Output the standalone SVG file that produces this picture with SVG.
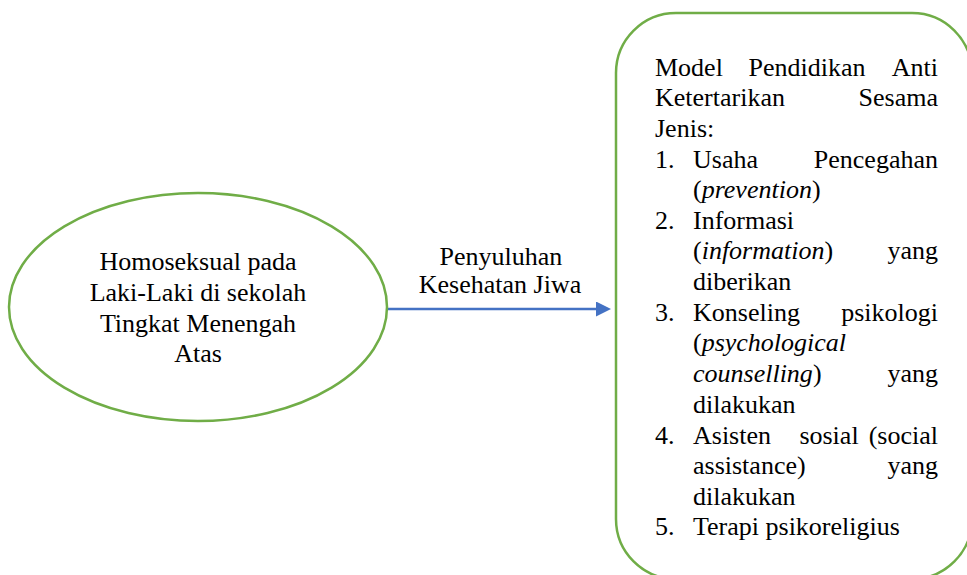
<svg xmlns="http://www.w3.org/2000/svg" width="967" height="575" viewBox="0 0 967 575">
<defs>
<style>
text{font-family:'Liberation Serif','DejaVu Serif',serif;font-size:26px;fill:#000}
.m{text-anchor:middle}
.e{text-anchor:end}
.i{font-style:italic}
.shape{fill:#fff;stroke:#70AD47;stroke-width:2.5}
</style>
<marker id="ah" markerWidth="15" markerHeight="15" refX="0" refY="7.5" orient="auto" markerUnits="userSpaceOnUse">
<polygon points="0,0 15,7.5 0,15" fill="#4472C4"/>
</marker>
</defs>
<rect width="967" height="575" fill="#fff"/>
<g id="connectors">
<line x1="388" y1="309" x2="596" y2="309" stroke="#4472C4" stroke-width="2.5" marker-end="url(#ah)"/>
<text class="m" x="501" y="265">Penyuluhan</text>
<text class="m" x="500" y="293">Kesehatan Jiwa</text>
</g>
<g id="node-homoseksual">
<ellipse class="shape" cx="198" cy="307" rx="189" ry="114"/>
<text class="m" x="198" y="270">Homoseksual pada</text>
<text class="m" x="198" y="301">Laki-Laki di sekolah</text>
<text class="m" x="198" y="332">Tingkat Menengah</text>
<text class="m" x="198" y="362">Atas</text>
</g>
<g id="node-model">
<rect class="shape" x="616" y="13" width="356" height="566" rx="60" ry="60"/>
<text x="655" y="76">Model</text>
<text class="m" x="807" y="76">Pendidikan</text>
<text class="e" x="938" y="76">Anti</text>
<text x="655" y="106">Ketertarikan</text>
<text class="e" x="938" y="106">Sesama</text>
<text x="655" y="137">Jenis:</text>
<text x="655" y="168">1.</text>
<text x="693" y="168">Usaha</text>
<text class="e" x="938" y="168">Pencegahan</text>
<text x="693" y="198">(<tspan class="i">prevention</tspan>)</text>
<text x="655" y="229">2.</text>
<text x="693" y="229">Informasi</text>
<text x="693" y="259">(<tspan class="i">information</tspan>)</text>
<text class="e" x="938" y="259">yang</text>
<text x="693" y="290">diberikan</text>
<text x="655" y="321">3.</text>
<text x="693" y="321">Konseling</text>
<text class="e" x="938" y="321">psikologi</text>
<text x="693" y="351">(<tspan class="i">psychological</tspan></text>
<text x="693" y="382"><tspan class="i">counselling</tspan>)</text>
<text class="e" x="938" y="382">yang</text>
<text x="693" y="413">dilakukan</text>
<text x="655" y="444">4.</text>
<text x="693" y="444">Asisten</text>
<text class="m" x="829" y="444">sosial</text>
<text class="e" x="938" y="444">(social</text>
<text x="693" y="474">assistance)</text>
<text class="e" x="938" y="474">yang</text>
<text x="693" y="505">dilakukan</text>
<text x="655" y="535">5.</text>
<text x="693" y="535">Terapi psikoreligius</text>
</g>
</svg>
